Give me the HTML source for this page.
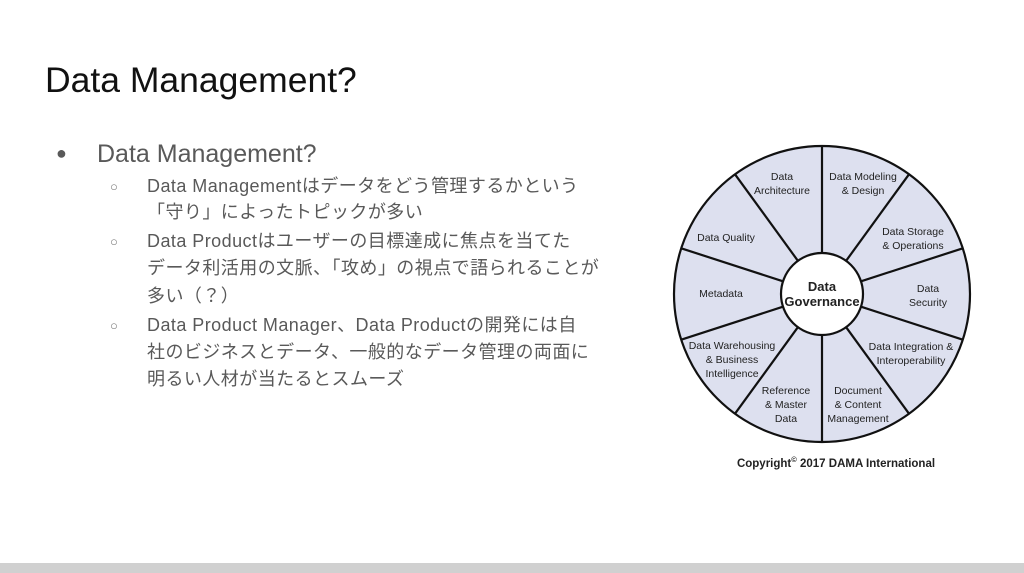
<!DOCTYPE html>
<html><head><meta charset="utf-8"><style>
body{margin:0;width:1024px;height:573px;background:#fff;position:relative;overflow:hidden;font-family:"Liberation Sans","Noto Sans CJK JP",sans-serif;}
.t{position:absolute;white-space:nowrap;}
.title{left:45px;top:60px;font-size:35.5px;color:#111;}
.b1{left:56px;top:140px;font-size:25px;color:#595959;}
.l{left:147px;font-size:18px;color:#595959;line-height:22px;letter-spacing:0.45px;}
.c{left:110px;font-size:13px;color:#777;}
.bar{position:absolute;left:0;top:563px;width:1024px;height:10px;background:#d0d0d0;}
</style></head><body>
<div class="t title">Data Management?</div>
<div class="t b1"><span style="font-size:18px;vertical-align:3px">●</span><span style="position:absolute;left:41px">Data Management?</span></div>
<div class="t c" style="top:179px">○</div>
<div class="t l" style="top:175px">Data Managementはデータをどう管理するかという</div>
<div class="t l" style="top:201px">「守り」によったトピックが多い</div>
<div class="t c" style="top:234px">○</div>
<div class="t l" style="top:230px">Data Productはユーザーの目標達成に焦点を当てた</div>
<div class="t l" style="top:257px">データ利活用の文脈、「攻め」の視点で語られることが</div>
<div class="t l" style="top:285px">多い（？）</div>
<div class="t c" style="top:318px">○</div>
<div class="t l" style="top:314px">Data Product Manager、Data Productの開発には自</div>
<div class="t l" style="top:341px">社のビジネスとデータ、一般的なデータ管理の両面に</div>
<div class="t l" style="top:368px">明るい人材が当たるとスムーズ</div>
<svg style="position:absolute;left:0;top:0" width="1024" height="573">
<g stroke="#111" stroke-width="2.2">
<circle cx="822" cy="294" r="148" fill="#dde0ef"/>
<line x1="822" y1="253" x2="822" y2="146"/>
<line x1="846.1" y1="260.8" x2="909" y2="174.3"/>
<line x1="861" y1="281.3" x2="962.8" y2="248.3"/>
<line x1="861" y1="306.7" x2="962.8" y2="339.7"/>
<line x1="846.1" y1="327.2" x2="909" y2="413.7"/>
<line x1="822" y1="335" x2="822" y2="442"/>
<line x1="797.9" y1="327.2" x2="735" y2="413.7"/>
<line x1="783" y1="306.7" x2="681.2" y2="339.7"/>
<line x1="783" y1="281.3" x2="681.2" y2="248.3"/>
<line x1="797.9" y1="260.8" x2="735" y2="174.3"/>
<circle cx="822" cy="294" r="41" fill="#fff"/>
</g>
<g font-family="Liberation Sans,sans-serif" font-size="10.5" fill="#222" text-anchor="middle">
<text x="782" y="180">Data</text><text x="782" y="194">Architecture</text>
<text x="863" y="180">Data Modeling</text><text x="863" y="194">&amp; Design</text>
<text x="913" y="235">Data Storage</text><text x="913" y="249">&amp; Operations</text>
<text x="928" y="292">Data</text><text x="928" y="306">Security</text>
<text x="911" y="350">Data Integration &amp;</text><text x="911" y="364">Interoperability</text>
<text x="858" y="394">Document</text><text x="858" y="408">&amp; Content</text><text x="858" y="422">Management</text>
<text x="786" y="394">Reference</text><text x="786" y="408">&amp; Master</text><text x="786" y="422">Data</text>
<text x="732" y="349">Data Warehousing</text><text x="732" y="363">&amp; Business</text><text x="732" y="377">Intelligence</text>
<text x="721" y="297">Metadata</text>
<text x="726" y="241">Data Quality</text>
<text x="822" y="291" font-weight="bold" font-size="13">Data</text>
<text x="822" y="306" font-weight="bold" font-size="13">Governance</text>
<text x="836" y="467" font-weight="bold" font-size="11.5">Copyright<tspan font-size="7.5" dy="-5">©</tspan><tspan dy="5"> 2017 DAMA International</tspan></text>
</g>
</svg>
<div class="bar"></div>
</body></html>
